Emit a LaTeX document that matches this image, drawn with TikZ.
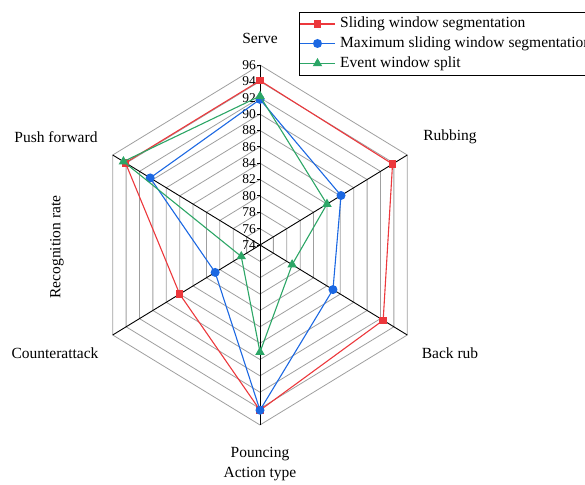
\documentclass[tikz,border=0pt]{standalone}
\usepackage{fontspec}
\setmainfont{Liberation Serif}
\usetikzlibrary{calc,shapes.geometric}

\definecolor{srred}{RGB}{236,56,60}
\definecolor{srblue}{RGB}{28,104,226}
\definecolor{srgreen}{RGB}{44,166,102}

\tikzset{
  ringline/.style={draw=gray!75,line width=0.8pt},
  spokeline/.style={draw=black,line width=0.9pt},
  redline/.style={draw=srred,line width=1.1pt},
  blueline/.style={draw=srblue,line width=1.1pt},
  greenline/.style={draw=srgreen,line width=1.1pt},
  redmark/.style={rectangle,fill=srred,minimum size=7.5pt,inner sep=0pt},
  bluemark/.style={circle,fill=srblue,minimum size=9pt,inner sep=0pt},
  greenmark/.style={regular polygon,regular polygon sides=3,fill=srgreen,minimum size=11pt,inner sep=0pt},
  ticklabel/.style={anchor=east,inner sep=0.8pt,font=\fontsize{13.5}{15}\selectfont},
  axislabel/.style={inner sep=0pt,font=\fontsize{15.5}{18}\selectfont},
  legendtext/.style={anchor=west,inner sep=0pt,font=\fontsize{15.5}{18}\selectfont},
}

\begin{document}
\begin{tikzpicture}[x=7.73pt,y=8.18pt]
  \useasboundingbox (-260pt,-239pt) rectangle (325pt,245pt);
  \clip (-260pt,-239pt) rectangle (325pt,245pt);
  \coordinate (C) at (0,0);

  %% Rings of the radar grid
  \foreach \r in {2,4,...,22}
  {
    \draw[ringline] (90:\r) -- (30:\r) -- (-30:\r) -- (-90:\r)
      -- (-150:\r) -- (150:\r) -- cycle;
  }

  %% Spokes
  \foreach \a/\n in {90/0,30/1,-30/2,-90/3,-150/4,150/5}
  {
    \coordinate (V\n) at (\a:22);
    \draw[spokeline] (C) -- (V\n);
  }

  %% Scale on the first spoke
  \foreach \v in {74,76,...,96}
  {
    \pgfmathtruncatemacro\r{\v-74}
    \coordinate (TK\v) at (0,\r);
    \draw[spokeline] (TK\v) -- ++(-3pt,0) node[ticklabel] (TL\v) {\v};
  }

  %% Data points
  \foreach \a/\n/\vr/\vb/\vg in {90/0/94.1/91.8/92.2, 30/1/93.8/86.1/84.0,
    -30/2/92.4/84.9/78.8, -90/3/94.2/94.2/87.1, -150/4/86.0/80.7/76.8,
    150/5/94.1/90.4/94.4}
  {
    \pgfmathsetmacro\rr{\vr-74}
    \pgfmathsetmacro\rb{\vb-74}
    \pgfmathsetmacro\rg{\vg-74}
    \coordinate (R\n) at (\a:\rr);
    \coordinate (B\n) at (\a:\rb);
    \coordinate (G\n) at (\a:\rg);
  }

  \draw[redline] (R0) -- (R1) -- (R2) -- (R3) -- (R4) -- (R5) -- cycle;
  \foreach \n in {0,...,5}
    \node[redmark] (RM\n) at (R\n) {};
  \draw[blueline] (B0) -- (B1) -- (B2) -- (B3) -- (B4) -- (B5) -- cycle;
  \foreach \n in {0,...,5}
    \node[bluemark] (BM\n) at (B\n) {};
  \draw[greenline] (G0) -- (G1) -- (G2) -- (G3) -- (G4) -- (G5) -- cycle;
  \foreach \n in {0,...,5}
    \node[greenmark] (GM\n) at (G\n) {};

  %% Axis labels
  \node[axislabel] (SERVE) at (0pt,207pt) {Serve};
  \node[axislabel] (RUB) at (190pt,108pt) {Rubbing};
  \node[axislabel] (BACK) at (190pt,-108pt) {Back rub};
  \node[axislabel] (POUNCE) at (0pt,-209pt) {Pouncing};
  \node[axislabel] (COUNTER) at (-205pt,-108pt) {Counterattack};
  \node[axislabel] (PUSH) at (-204pt,108pt) {Push forward};
  \node[axislabel,rotate=90] (YTITLE) at (-203pt,-2pt) {Recognition rate};
  \node[axislabel] (XTITLE) at (0pt,-229pt) {Action type};

  %% Legend
  \draw[line width=0.8pt] (39pt,170pt) rectangle (345pt,232.5pt);
  \foreach \k/\y/\s/\m/\t in {1/221/redline/redmark/Sliding window segmentation,
    2/201.5/blueline/bluemark/Maximum sliding window segmentation,
    3/181.5/greenline/greenmark/Event window split}
  {
    \coordinate (LA\k) at (40pt,\y pt);
    \coordinate (LB\k) at (75pt,\y pt);
    \draw[\s] (LA\k) -- (LB\k);
    \node[\m] (LM\k) at ($(LA\k)!0.5!(LB\k)$) {};
    \node[legendtext] (LT\k) at (80pt,\y pt) {\t};
  }
\end{tikzpicture}
\end{document}
